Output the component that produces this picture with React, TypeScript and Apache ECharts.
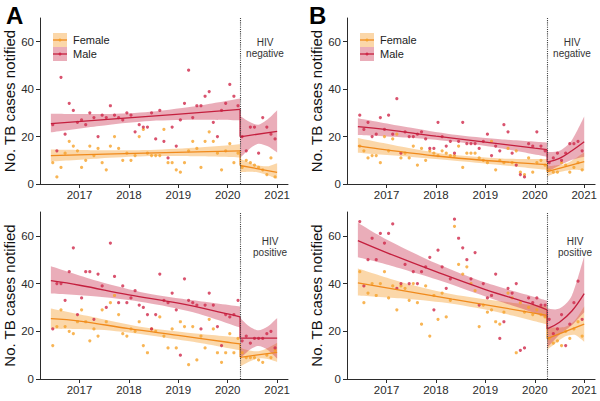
import { useEffect, useRef } from "react";
import * as echarts from "echarts";

// ---------- data ----------
const YEAR_TICKS = [2017, 2018, 2019, 2020, 2021];
const Y_TICKS = [0, 20, 40, 60];
const BREAK_X = 2020.25; // April 2020
const PRE_FIRST_MONTH = 2016 + 5.5 / 12; // June 2016 (mid-month)
const POST_FIRST_MONTH = 2020 + 3.5 / 12; // April 2020 (mid-month)
const N_PRE = 46;
const N_POST = 9;
const PRE_X = Array.from({ length: N_PRE }, (_, k) => PRE_FIRST_MONTH + k / 12);
const POST_X = Array.from({ length: N_POST }, (_, k) => POST_FIRST_MONTH + k / 12);

// Panel A (HIV negative, province 1)
const A_M_PRE = [25,14,45,21,34,31,26,27,25,30,28,20,29,28,33,29,28,27,30,29,22,25,24,24,30,19,31,18,11,24,16,27,34,48,28,33,33,37,39,26,20,31,34,42,37,33];
const A_F_PRE = [9,3,7,13,18,16,14,7,10,16,12,15,9,6,16,20,15,10,13,10,12,20,23,13,12,12,12,23,9,9,6,5,9,14,18,15,7,18,22,18,13,6,14,17,9,13];
const A_M_POST = [20,14,24,24,13,28,24,21,19];
const A_F_POST = [7,10,9,8,7,6,4,11,3];
const A_M_FIT_PRE = [[2016.42,25.5],[2018.33,28.4],[2020.25,31.5]];
const A_F_FIT_PRE = [[2016.42,12],[2018.33,13],[2020.25,14]];
const A_M_FIT_POST = [[2020.25,19.9],[2021,22.2]];
const A_F_FIT_POST = [[2020.25,7.8],[2021,4.9]];
const A_M_BAND_PRE = [[2016.42,21.8,29.6],[2017.4,24.5,29.5],[2018.33,26.5,30.3],[2019.3,27.1,32.7],[2020.25,26.9,36.1]];
const A_F_BAND_PRE = [[2016.42,9.5,14.5],[2017.4,10.8,14.2],[2018.33,11.7,14.3],[2019.3,11.7,15.3],[2020.25,11.2,16.8]];
const A_M_BAND_POST = [[2020.25,11,28.8],[2020.44,14.8,26.2],[2020.62,17,25],[2020.81,15.9,27.3],[2021,13.3,31.1]];
const A_F_BAND_POST = [[2020.25,5,10.7],[2020.44,5.2,9],[2020.62,4.9,7.8],[2020.81,3.7,7.5],[2021,2.2,8.8]];

// Panel B (HIV negative, province 2)
const B_M_PRE = [29,23,26,20,21,28,23,29,21,36,13,22,20,20,21,22,19,15,15,26,20,16,18,13,18,26,17,17,17,15,18,21,12,16,14,25,22,13,8,4,3,17,16,22,16,14];
const B_F_PRE = [16,14,11,12,12,9,20,14,19,21,11,13,11,16,8,15,10,14,13,12,14,13,12,12,16,7,13,13,13,11,10,9,18,6,10,9,15,9,14,5,4,11,5,9,10,8];
const B_M_POST = [9,11,13,10,13,17,17,18,14];
const B_F_POST = [6,5,5,9,8,5,7,9,6];
const B_M_FIT_PRE = [[2016.42,24.2],[2017,22.9],[2018,20.2],[2019,17.7],[2020,15.1],[2020.25,14.5]];
const B_F_FIT_PRE = [[2016.42,16.1],[2017,14.4],[2018,11.8],[2019,9.9],[2020,8.5],[2020.25,8.2]];
const B_M_FIT_POST = [[2020.25,9.2],[2020.5,10.8],[2020.75,14],[2021,17.8]];
const B_F_FIT_POST = [[2020.25,5.2],[2021,9.4]];
const B_M_BAND_PRE = [[2016.42,20.7,27.7],[2017.4,19.6,24],[2018.33,17.9,20.9],[2019.3,15.1,18.9],[2020.25,11.5,17.5]];
const B_F_BAND_PRE = [[2016.42,13.2,19.4],[2017.4,11.6,15.4],[2018.33,9.9,12.3],[2019.3,8,10.8],[2020.25,5.9,10.5]];
const B_M_BAND_POST = [[2020.25,5,13.5],[2020.5,7.8,14],[2020.75,10.2,18.5],[2021,11.5,28.5]];
const B_F_BAND_POST = [[2020.25,3.2,7.4],[2020.44,4.7,7.9],[2020.62,5.6,8.4],[2020.81,6,10.6],[2021,5.6,13.4]];

// Panel C (HIV positive, province 1)
const C_M_PRE = [21,40,40,33,45,55,27,34,45,45,25,44,39,30,57,43,32,39,32,34,37,31,30,27,21,27,44,33,32,36,29,10,42,33,32,31,21,31,36,31,22,14,27,26,27,33];
const C_F_PRE = [14,22,29,22,20,19,24,29,24,16,21,18,29,24,32,35,27,19,18,21,20,24,14,11,21,20,26,18,13,21,13,24,22,6,22,8,18,13,25,21,11,7,11,19,11,17];
const C_M_POST = [16,18,15,17,17,17,19,20,13];
const C_F_POST = [11,9,9,9,8,7,10,9,12];
const C_M_FIT_PRE = [[2016.42,41.2],[2017,39.3],[2018,35.3],[2019,31.8],[2020,27.3],[2020.25,26]];
const C_F_FIT_PRE = [[2016.42,25.3],[2017,24.3],[2018,21.1],[2019,18.3],[2020,15.4],[2020.25,14.7]];
const C_M_FIT_POST = [[2020.25,17.1],[2021,17.1]];
const C_F_FIT_POST = [[2020.25,9.1],[2021,11.2]];
const C_M_BAND_PRE = [[2016.42,35.8,47.3],[2017.4,34.5,40.9],[2018.33,32.1,36.1],[2019.3,28,33],[2020.25,21.6,30.4]];
const C_F_BAND_PRE = [[2016.42,21.1,29.5],[2017.4,20.6,25.4],[2018.33,18.6,21.6],[2019.3,15.6,19.2],[2020.25,12,17.4]];
const C_M_BAND_POST = [[2020.25,8.6,25.6],[2020.44,12.2,22],[2020.62,13.8,20.4],[2020.81,12.2,22],[2021,8.6,25.6]];
const C_F_BAND_POST = [[2020.25,5.1,13.1],[2020.44,7.3,11.9],[2020.62,8.65,11.65],[2020.81,8.4,13],[2021,7.2,15.2]];

// Panel D (HIV positive, province 2)
const D_M_PRE = [66,39,50,59,50,61,57,61,65,38,40,48,40,45,40,45,47,51,29,54,47,38,42,67,59,55,50,42,53,31,40,34,35,44,17,24,38,36,40,12,13,34,32,34,31,31];
const D_F_PRE = [45,32,36,40,35,40,45,34,39,29,39,38,33,40,32,23,39,18,35,25,36,26,33,64,48,44,47,40,37,22,31,28,29,24,23,28,36,34,11,32,28,30,27,29,27,26];
const D_M_POST = [25,19,21,27,14,23,32,41,25];
const D_F_POST = [17,15,16,14,20,17,21,24,18];
const D_M_FIT_PRE = [[2016.42,58],[2017,53],[2018,45],[2019,37.5],[2020,31],[2020.25,29]];
const D_F_FIT_PRE = [[2016.42,40.3],[2018.33,33.5],[2020.25,26.7]];
const D_M_FIT_POST = [[2020.25,21],[2020.5,23.8],[2020.75,28.5],[2021,35.8]];
const D_F_FIT_POST = [[2020.25,16.9],[2021,23]];
const D_M_BAND_PRE = [[2016.42,51,65.5],[2017,48,58.5],[2018,41.8,48.5],[2019,34.6,40.4],[2020,27.6,34.4],[2020.25,25.5,32.8]];
const D_F_BAND_PRE = [[2016.42,35,46.3],[2017.4,33.6,40],[2018.33,31.5,35.5],[2019.3,27.8,32.6],[2020.25,22.9,30.4]];
const D_M_BAND_POST = [[2020.25,13,29.5],[2020.5,18.5,29.5],[2020.75,22.5,35],[2021,28,51.5]];
const D_F_BAND_POST = [[2020.25,12.2,21.6],[2020.44,15.3,21.6],[2020.62,17.9,21.9],[2020.81,18.5,24.5],[2021,15.6,30.4]];

const SEX_LABELS = ["Female", "Male"];
const PANEL_LETTERS = ["A", "B"];
const STATUS_LABELS = ["HIV\nnegative", "HIV\nnegative", "HIV\npositive", "HIV\npositive"];
const Y_TITLE = "No. TB cases notified";

// ---------- styles ----------
const FONT = '"Liberation Sans", Arial, sans-serif';
const AXIS_COLOR = "#2b2b2b";
const MALE_LINE = "#c41f3e";
const MALE_PT = "#d0284a";
const MALE_BAND = "rgba(200, 40, 70, 0.38)";
const FEMALE_LINE = "#f08a1c";
const FEMALE_PT = "#f6a22a";
const FEMALE_BAND = "rgba(245, 160, 50, 0.42)";

const PANELS = [
  { grid: { left: 40, top: 18, width: 248, height: 166 }, mPre: A_M_PRE, fPre: A_F_PRE, mPost: A_M_POST, fPost: A_F_POST,
    mFitPre: A_M_FIT_PRE, fFitPre: A_F_FIT_PRE, mFitPost: A_M_FIT_POST, fFitPost: A_F_FIT_POST,
    mBandPre: A_M_BAND_PRE, fBandPre: A_F_BAND_PRE, mBandPost: A_M_BAND_POST, fBandPost: A_F_BAND_POST },
  { grid: { left: 347, top: 18, width: 249, height: 166 }, mPre: B_M_PRE, fPre: B_F_PRE, mPost: B_M_POST, fPost: B_F_POST,
    mFitPre: B_M_FIT_PRE, fFitPre: B_F_FIT_PRE, mFitPost: B_M_FIT_POST, fFitPost: B_F_FIT_POST,
    mBandPre: B_M_BAND_PRE, fBandPre: B_F_BAND_PRE, mBandPost: B_M_BAND_POST, fBandPost: B_F_BAND_POST },
  { grid: { left: 40, top: 212, width: 248, height: 167 }, mPre: C_M_PRE, fPre: C_F_PRE, mPost: C_M_POST, fPost: C_F_POST,
    mFitPre: C_M_FIT_PRE, fFitPre: C_F_FIT_PRE, mFitPost: C_M_FIT_POST, fFitPost: C_F_FIT_POST,
    mBandPre: C_M_BAND_PRE, fBandPre: C_F_BAND_PRE, mBandPost: C_M_BAND_POST, fBandPost: C_F_BAND_POST },
  { grid: { left: 347, top: 212, width: 249, height: 167 }, mPre: D_M_PRE, fPre: D_F_PRE, mPost: D_M_POST, fPost: D_F_POST,
    mFitPre: D_M_FIT_PRE, fFitPre: D_F_FIT_PRE, mFitPost: D_M_FIT_POST, fFitPost: D_F_FIT_POST,
    mBandPre: D_M_BAND_PRE, fBandPre: D_F_BAND_PRE, mBandPost: D_M_BAND_POST, fBandPost: D_F_BAND_POST },
];

// Catmull-Rom -> cubic bezier path segments through pixel points
function curvePath(pts: number[][], startCmd: "M" | "L") {
  let d = `${startCmd}${pts[0][0]},${pts[0][1]}`;
  for (let i = 0; i < pts.length - 1; i++) {
    const p0 = pts[Math.max(0, i - 1)];
    const p1 = pts[i];
    const p2 = pts[i + 1];
    const p3 = pts[Math.min(pts.length - 1, i + 2)];
    const t = 0.8 / 6;
    const c1x = p1[0] + (p2[0] - p0[0]) * t;
    const c1y = p1[1] + (p2[1] - p0[1]) * t;
    const c2x = p2[0] - (p3[0] - p1[0]) * t;
    const c2y = p2[1] - (p3[1] - p1[1]) * t;
    d += ` C${c1x},${c1y} ${c2x},${c2y} ${p2[0]},${p2[1]}`;
  }
  return d;
}

function bandSeries(idx: number, rows: number[][], color: string) {
  return {
    type: "custom", xAxisIndex: idx, yAxisIndex: idx, silent: true, z: 1, clip: false,
    data: rows.map((r) => [r[0], r[1], r[2]]),
    encode: { x: 0, y: [1, 2] },
    renderItem: (params: any, api: any) => {
      if (params.dataIndex !== 0) return null;
      const upper = rows.map((r) => api.coord([r[0], r[2]]));
      const lower = rows.map((r) => api.coord([r[0], r[1]])).reverse();
      const d = curvePath(upper, "M") + " " + curvePath(lower, "L") + " Z";
      return { type: "path", shape: { pathData: d }, style: { fill: color, stroke: "none" } };
    },
  };
}

function lineSeries(idx: number, data: number[][], color: string) {
  return {
    type: "line", xAxisIndex: idx, yAxisIndex: idx, data, symbol: "none", smooth: 0.4,
    silent: true, z: 4, lineStyle: { color, width: 1.3 },
  };
}

function scatterSeries(idx: number, xs: number[], ys: number[], color: string, extra: any = {}) {
  return {
    type: "scatter", xAxisIndex: idx, yAxisIndex: idx, data: xs.map((x, k) => [x, ys[k]]),
    symbolSize: 3.2, itemStyle: { color }, z: 3, silent: true, ...extra,
  };
}

function buildOption() {
  const grid: any[] = [];
  const xAxis: any[] = [];
  const yAxis: any[] = [];
  const series: any[] = [];
  const graphic: any[] = [];

  PANELS.forEach((p, i) => {
    grid.push({ ...p.grid, containLabel: false });
    xAxis.push({
      gridIndex: i, type: "value", min: 2016.2, max: 2021.22,
      axisLine: { show: true, lineStyle: { color: AXIS_COLOR, width: 1 } },
      axisTick: { show: true, length: 4, customValues: YEAR_TICKS, lineStyle: { color: AXIS_COLOR } },
      axisLabel: { customValues: YEAR_TICKS, formatter: (v: number) => String(Math.round(v)), fontSize: 11.5, color: AXIS_COLOR, fontFamily: FONT, margin: 5 },
      splitLine: { show: false },
    });
    yAxis.push({
      gridIndex: i, type: "value", min: 0, max: 70,
      axisLine: { show: true, lineStyle: { color: AXIS_COLOR, width: 1 } },
      axisTick: { show: true, length: 4, customValues: Y_TICKS, lineStyle: { color: AXIS_COLOR } },
      axisLabel: { customValues: Y_TICKS, fontSize: 11.5, color: AXIS_COLOR, fontFamily: FONT, margin: 6 },
      splitLine: { show: false },
      name: Y_TITLE, nameLocation: "middle", nameGap: 20, nameRotate: 90,
      nameTextStyle: { fontSize: 15, color: "#111", fontFamily: FONT },
    });

    series.push(bandSeries(i, p.fBandPre, FEMALE_BAND));
    series.push(bandSeries(i, p.mBandPre, MALE_BAND));
    series.push(bandSeries(i, p.fBandPost, FEMALE_BAND));
    series.push(bandSeries(i, p.mBandPost, MALE_BAND));

    series.push(scatterSeries(i, PRE_X, p.fPre, FEMALE_PT));
    series.push(scatterSeries(i, POST_X, p.fPost, FEMALE_PT));
    series.push(scatterSeries(i, PRE_X, p.mPre, MALE_PT));
    series.push(scatterSeries(i, POST_X, p.mPost, MALE_PT, {
      markLine: {
        silent: true, symbol: ["none", "none"], label: { show: false },
        lineStyle: { type: "dotted", color: "#444", width: 1.1 },
        data: [{ xAxis: BREAK_X }],
      },
    }));

    series.push(lineSeries(i, p.fFitPre, FEMALE_LINE));
    series.push(lineSeries(i, p.fFitPost, FEMALE_LINE));
    series.push(lineSeries(i, [p.fFitPre[p.fFitPre.length - 1], p.fFitPost[0]], FEMALE_LINE));
    series.push(lineSeries(i, p.mFitPre, MALE_LINE));
    series.push(lineSeries(i, p.mFitPost, MALE_LINE));
    series.push(lineSeries(i, [p.mFitPre[p.mFitPre.length - 1], p.mFitPost[0]], MALE_LINE));
  });

  // panel letters
  const letterX = [6, 309];
  PANEL_LETTERS.forEach((t, j) => {
    graphic.push({ type: "text", x: letterX[j], y: 3, style: { text: t, fill: "#000", font: `bold 24px ${FONT}` } });
  });

  // legends (top panels)
  const legendX = [53, 360];
  legendX.forEach((lx) => {
    const rows = [
      { y: 33, band: FEMALE_BAND, line: FEMALE_LINE, pt: FEMALE_PT, label: SEX_LABELS[0] },
      { y: 47, band: MALE_BAND, line: MALE_LINE, pt: MALE_PT, label: SEX_LABELS[1] },
    ];
    rows.forEach((r) => {
      graphic.push({ type: "rect", shape: { x: lx, y: r.y, width: 14, height: 14 }, style: { fill: r.band } });
      graphic.push({ type: "line", shape: { x1: lx, y1: r.y + 7, x2: lx + 14, y2: r.y + 7 }, style: { stroke: r.line, lineWidth: 1.3 } });
      graphic.push({ type: "circle", shape: { cx: lx + 7, cy: r.y + 7, r: 1.5 }, style: { fill: r.pt } });
      graphic.push({ type: "text", x: lx + 20, y: r.y + 7, style: { text: r.label, fill: "#222", font: `11px ${FONT}`, verticalAlign: "middle", align: "left" } });
    });
  });

  // HIV status labels
  const statusPos = [[265, 37], [572, 37], [270, 236], [575, 236]];
  STATUS_LABELS.forEach((t, j) => {
    graphic.push({
      type: "text", x: statusPos[j][0], y: statusPos[j][1],
      style: { text: t, fill: "#333", font: `10px ${FONT}`, align: "center", verticalAlign: "top", lineHeight: 11 },
    });
  });

  return { animation: false, backgroundColor: "#fff", grid, xAxis, yAxis, series, graphic };
}

export default function App() {
  const ref = useRef<HTMLDivElement>(null);
  useEffect(() => {
    document.body.style.margin = "0";
    if (!ref.current) return;
    const chart = echarts.init(ref.current, undefined, { renderer: "svg" });
    chart.setOption(buildOption() as any);
    return () => chart.dispose();
  }, []);
  return <div ref={ref} style={{ width: 600, height: 401 }} />;
}
